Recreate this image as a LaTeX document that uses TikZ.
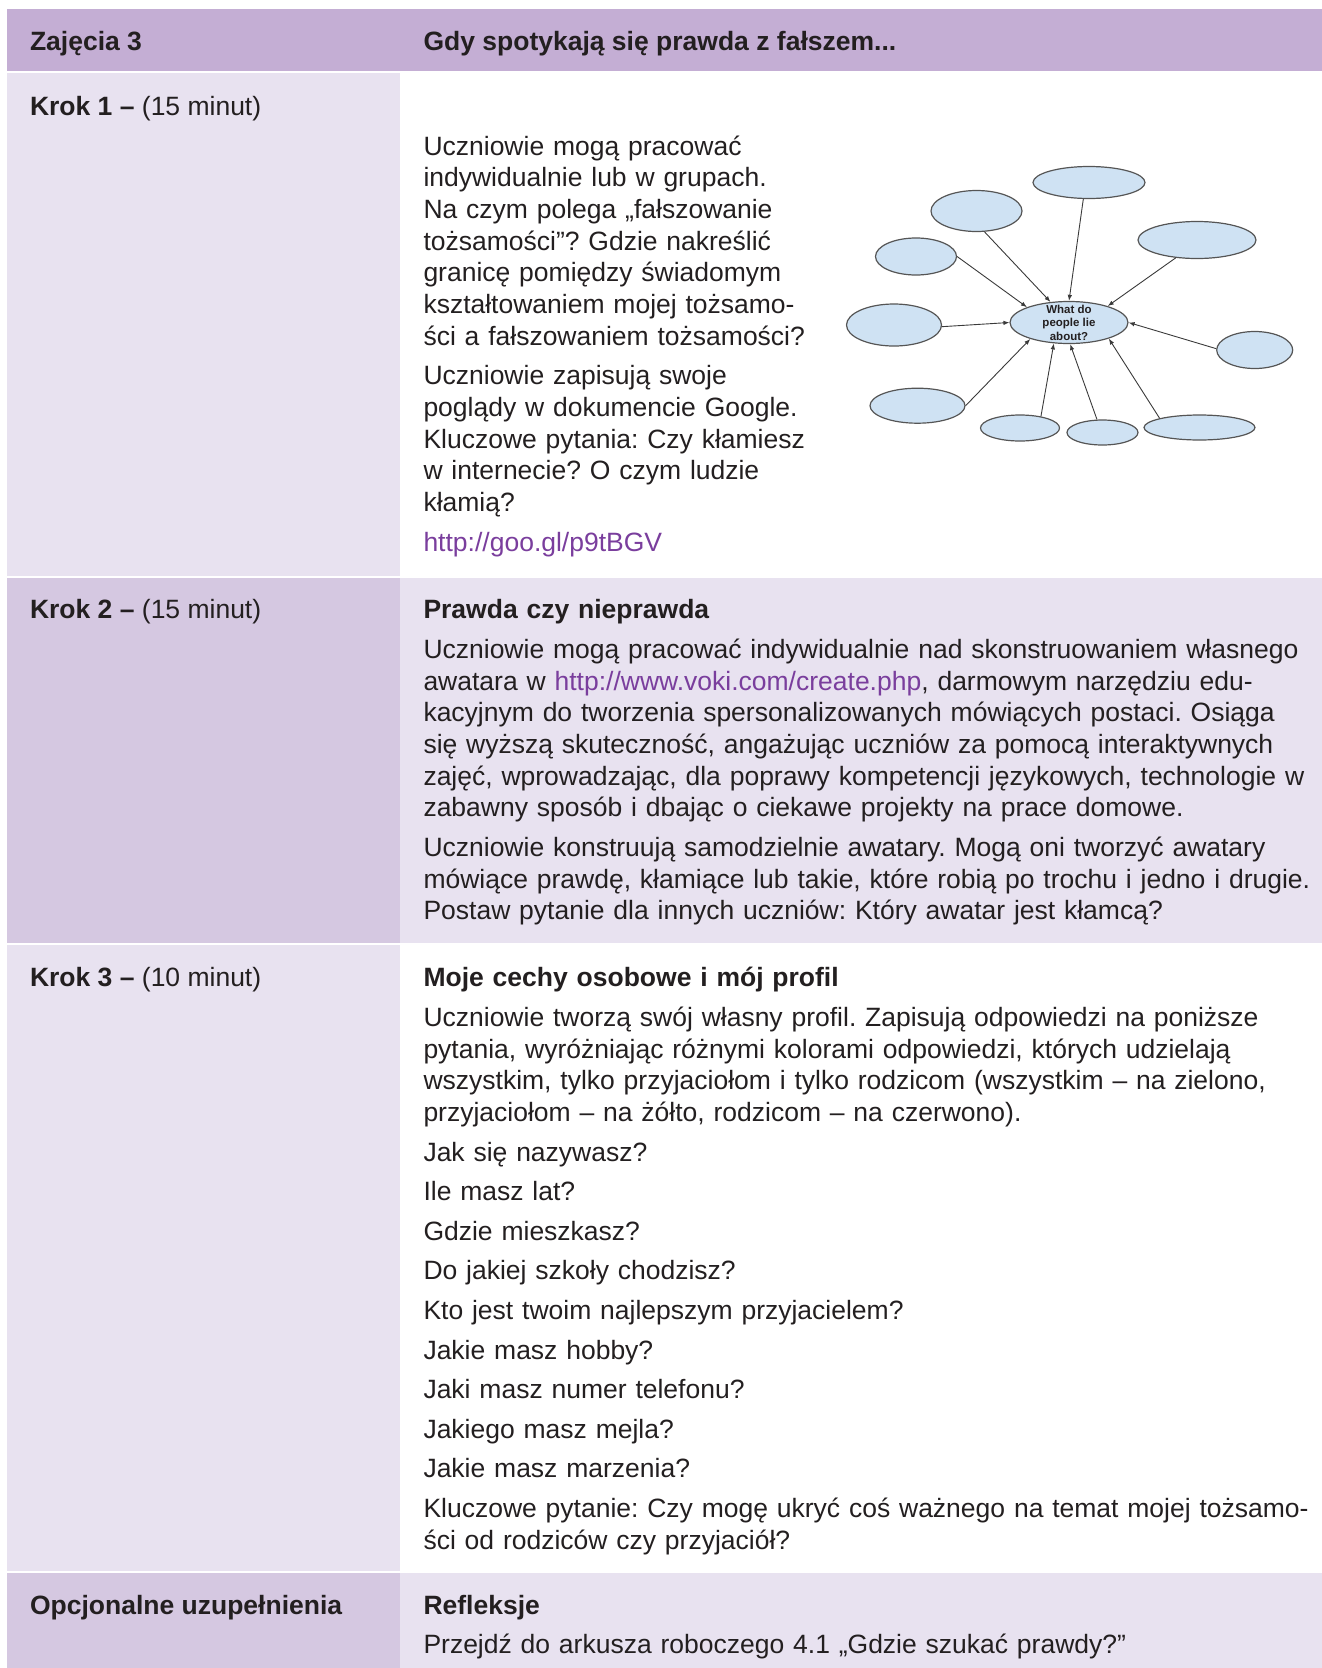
\documentclass[tikz,border=0pt]{standalone}
\usepackage{fontspec}
\setmainfont{Liberation Sans}
\usepackage{xcolor}
\usetikzlibrary{arrows.meta, positioning, shapes.geometric}
\frenchspacing
\definecolor{headcolor}{HTML}{C4AED4}
\definecolor{darkcell}{HTML}{D5C8E1}
\definecolor{lightcell}{HTML}{E8E2F0}
\definecolor{inkcolor}{HTML}{231F20}
\definecolor{linkcolor}{HTML}{7A3E9D}
\definecolor{bubblecolor}{HTML}{CFE2F3}
\definecolor{bubbleline}{HTML}{555555}
\definecolor{arrowgray}{HTML}{3A3A3A}
\newcommand{\weblink}[1]{\textcolor{linkcolor}{#1}}
\newcommand{\fullline}[1]{\makebox[877pt][s]{#1}}

\begin{document}
\begin{tikzpicture}[x=1pt, y=-1pt,
    cell/.style={text=inkcolor, font=\fontsize{26.5}{31.7}\selectfont, inner sep=0pt, anchor=base west},
    body/.style={cell, text width=#1, align=left,
                 execute at begin node={\setlength{\parskip}{7.9pt}\frenchspacing}},
    bubble/.style={ellipse, draw=bubbleline, fill=bubblecolor, line width=1.2pt, inner sep=0pt},
    lieslabel/.style={align=center, text=inkcolor, inner sep=0pt,
                      font=\fontsize{11.5}{13.6}\selectfont\bfseries},
    feed/.style={-{Latex[length=6pt, width=4.5pt]}, line width=0.9pt, draw=arrowgray}
]
    \useasboundingbox (0,0) rectangle (1322,1668);

    % table background
    \fill[headcolor] (7.4,8.5) rectangle (1322,71);
    \fill[lightcell] (7.4,73) rectangle (400,575.5);
    \fill[darkcell] (7.4,577.5) rectangle (400,942.5);
    \fill[lightcell] (400,577.5) rectangle (1322,942.5);
    \fill[lightcell] (7.4,944.5) rectangle (400,1571);
    \fill[darkcell] (7.4,1573) rectangle (400,1668);
    \fill[lightcell] (400,1573) rectangle (1322,1668);

    \node[cell, font=\fontsize{26.5}{31.7}\selectfont\bfseries] (lesson) at (29.8,50.8) {Zajęcia 3};
    \node[cell, font=\fontsize{26.5}{31.7}\selectfont\bfseries] (topic) at (423.3,50.8)
        {Gdy spotykają się prawda z fałszem...};

    \node[cell] (krok1) at (29.8,115.7) {\textbf{Krok 1 –} (15 minut)};
    \node[cell] (krok2) at (29.8,618.7) {\textbf{Krok 2 –} (15 minut)};
    \node[cell] (krok3) at (29.8,986.8) {\textbf{Krok 3 –} (10 minut)};
    \node[cell] (optional) at (29.8,1614.3) {\textbf{Opcjonalne uzupełnienia}};

    \node[body=420pt] (step1) at (423.3,155) {Uczniowie mogą pracować\\
        indywidualnie lub w grupach.\\
        Na czym polega „fałszowanie\\
        tożsamości”? Gdzie nakreślić\\
        granicę pomiędzy świadomym\\
        kształtowaniem mojej tożsamo-\\
        ści a fałszowaniem tożsamości?\par
        Uczniowie zapisują swoje\\
        poglądy w dokumencie Google.\\
        Kluczowe pytania: Czy kłamiesz\\
        w internecie? O czym ludzie\\
        kłamią?\par
        \weblink{http://goo.gl/p9tBGV}};

    \node[body=900pt] (step2) at (423.3,618.7) {\textbf{Prawda czy nieprawda}\par
        \fullline{Uczniowie mogą pracować indywidualnie nad skonstruowaniem własnego}\\
        \fullline{awatara w \weblink{http://www.voki.com/create.php}, darmowym narzędziu edu-}\\
        \fullline{kacyjnym do tworzenia spersonalizowanych mówiących postaci. Osiąga}\\
        \fullline{się wyższą skuteczność, angażując uczniów za pomocą interaktywnych}\\
        \fullline{zajęć, wprowadzając, dla poprawy kompetencji językowych, technologie w}\\
        zabawny sposób i dbając o ciekawe projekty na prace domowe.\par
        \fullline{Uczniowie konstruują samodzielnie awatary. Mogą oni tworzyć awatary}\\
        \fullline{mówiące prawdę, kłamiące lub takie, które robią po trochu i jedno i drugie.}\\
        Postaw pytanie dla innych uczniów: Który awatar jest kłamcą?};

    \node[body=900pt] (step3) at (423.3,986.8) {\textbf{Moje cechy osobowe i mój profil}\par
        Uczniowie tworzą swój własny profil. Zapisują odpowiedzi na poniższe\\
        pytania, wyróżniając różnymi kolorami odpowiedzi, których udzielają\\
        wszystkim, tylko przyjaciołom i tylko rodzicom (wszystkim – na zielono,\\
        przyjaciołom – na żółto, rodzicom – na czerwono).\par
        Jak się nazywasz?\par
        Ile masz lat?\par
        Gdzie mieszkasz?\par
        Do jakiej szkoły chodzisz?\par
        Kto jest twoim najlepszym przyjacielem?\par
        Jakie masz hobby?\par
        Jaki masz numer telefonu?\par
        Jakiego masz mejla?\par
        Jakie masz marzenia?\par
        Kluczowe pytanie: Czy mogę ukryć coś ważnego na temat mojej tożsamo-\\
        ści od rodziców czy przyjaciół?};

    \node[body=900pt] (reflect) at (423.3,1614.3) {\textbf{Refleksje}\par
        Przejdź do arkusza roboczego 4.1 „Gdzie szukać prawdy?”};

    % mind map
    \node[bubble, minimum width=118pt, minimum height=42pt,
          label={[lieslabel]center:What do\\people lie\\about?}] (lies) at (1069,322.5) {};
    \node[bubble, minimum width=112pt, minimum height=32pt] (btop) at (1089,182.5) {};
    \node[bubble, minimum width=91pt, minimum height=41pt] (bupleft) at (976.5,211) {};
    \node[bubble, minimum width=81pt, minimum height=37pt] (bleftup) at (916,256.5) {};
    \node[bubble, minimum width=118pt, minimum height=37pt] (bupright) at (1197,240) {};
    \node[bubble, minimum width=95pt, minimum height=42pt] (bleft) at (894,325) {};
    \node[bubble, minimum width=76pt, minimum height=37pt] (bright) at (1254.7,350) {};
    \node[bubble, minimum width=95pt, minimum height=35pt] (blowleft) at (917.5,405.7) {};
    \node[bubble, minimum width=79pt, minimum height=26pt] (bbotA) at (1020,428) {};
    \node[bubble, minimum width=71pt, minimum height=25pt] (bbotB) at (1102.5,432.5) {};
    \node[bubble, minimum width=111pt, minimum height=25pt] (bbotC) at (1199.5,427.5) {};

    \draw[feed] (btop.251) -- (lies.90);
    \draw[feed] (bupleft.291) -- (lies.132);
    \draw[feed] (bleftup.0) -- (lies.160);
    \draw[feed] (bupright.220) -- (lies.23);
    \draw[feed] (bleft.358) -- (lies.180);
    \draw[feed] (bright.178) -- (lies.0);
    \draw[feed] (blowleft.0) -- (lies.203);
    \draw[feed] (bbotA.29) -- (lies.234);
    \draw[feed] (bbotB.113) -- (lies.273);
    \draw[feed] (bbotC.167) -- (lies.338);
\end{tikzpicture}
\end{document}
